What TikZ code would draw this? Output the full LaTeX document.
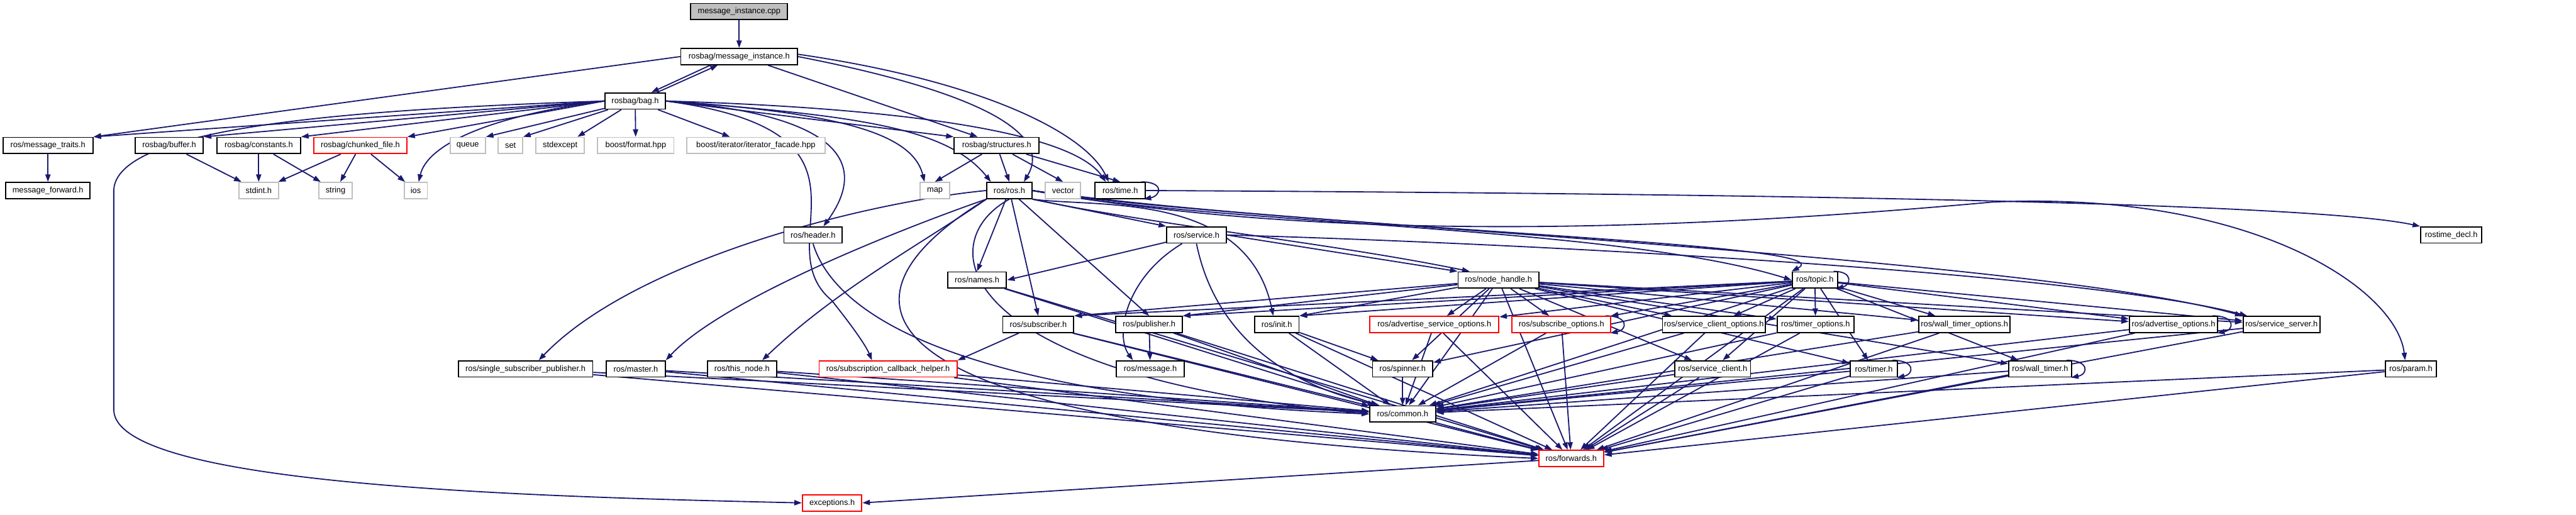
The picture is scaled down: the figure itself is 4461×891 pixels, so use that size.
\documentclass[tikz,border=0pt]{standalone}
\usepackage{fontspec}
\setmainfont{Liberation Sans}
\usetikzlibrary{arrows.meta, backgrounds}
\definecolor{edgeblue}{RGB}{25,25,112}
\definecolor{sysgray}{RGB}{191,191,191}
\definecolor{boxred}{RGB}{255,0,0}

\begin{document}
\begin{tikzpicture}[x=1pt,y=-1pt,
  font=\fontsize{14}{16}\selectfont,
  box/.style={draw=black, line width=2pt, fill=white, minimum height=28pt, inner sep=2pt},
  sysbox/.style={box, draw=sysgray},
  redbox/.style={box, draw=boxred},
  srcbox/.style={box, fill=sysgray},
  dep/.style={draw=edgeblue, line width=2pt, -{Triangle[length=13pt,width=9pt]}}]
  \useasboundingbox (0,0) rectangle (4461,891);

  % Top rows - the rosbag side
  \node[srcbox, minimum width=168pt] (cpp) at (1280,20) {message\_instance.cpp};
  \node[box, minimum width=202pt] (mi) at (1280,98) {rosbag/message\_instance.h};
  \node[box, minimum width=105pt] (bag) at (1100,175) {rosbag/bag.h};
  \node[box, minimum width=156pt] (traits) at (83,252) {ros/message\_traits.h};
  \node[box, minimum width=118pt] (buffer) at (293,252) {rosbag/buffer.h};
  \node[box, minimum width=145pt] (constants) at (448,252) {rosbag/constants.h};
  \node[redbox, minimum width=161pt] (chunked) at (624,252) {rosbag/chunked\_file.h};
  \node[sysbox, minimum width=61pt] (queue) at (810,252) {queue};
  \node[sysbox, minimum width=42pt] (set) at (884,252) {set};
  \node[sysbox, minimum width=84pt] (stdexcept) at (970,252) {stdexcept};
  \node[sysbox, minimum width=132pt] (bformat) at (1101,252) {boost/format.hpp};
  \node[sysbox, minimum width=239pt] (bfacade) at (1309,252) {boost/iterator/iterator\_facade.hpp};
  \node[box, minimum width=147pt] (structures) at (1726,252) {rosbag/structures.h};
  \node[box, minimum width=146pt] (fwdmsg) at (83,330) {message\_forward.h};
  \node[sysbox, minimum width=69pt] (stdint) at (448,330) {stdint.h};
  \node[sysbox, minimum width=58pt] (string) at (581,330) {string};
  \node[sysbox, minimum width=40pt] (ios) at (720,330) {ios};
  \node[sysbox, minimum width=51pt] (map) at (1619,330) {map};
  \node[box, minimum width=78pt] (ros) at (1748,330) {ros/ros.h};
  \node[sysbox, minimum width=61pt] (vector) at (1841,330) {vector};
  \node[box, minimum width=87pt] (time) at (1940,330) {ros/time.h};

  % Middle rows - roscpp
  \node[box, minimum width=101pt] (header) at (1408,407) {ros/header.h};
  \node[box, minimum width=103pt] (service) at (2072,407) {ros/service.h};
  \node[box, minimum width=106pt] (decl) at (4245,407) {rostime\_decl.h};
  \node[box, minimum width=102pt] (names) at (1692,485) {ros/names.h};
  \node[box, minimum width=140pt] (nh) at (2595,485) {ros/node\_handle.h};
  \node[box, minimum width=79pt] (topic) at (3143,485) {ros/topic.h};
  \node[box, minimum width=123pt] (subscriber) at (1798,562) {ros/subscriber.h};
  \node[box, minimum width=115pt] (publisher) at (1990,562) {ros/publisher.h};
  \node[box, minimum width=77pt] (init) at (2211,562) {ros/init.h};
  \node[redbox, minimum width=223pt] (aso) at (2484,562) {ros/advertise\_service\_options.h};
  \node[redbox, minimum width=171pt] (so) at (2704,562) {ros/subscribe\_options.h};
  \node[box, minimum width=178pt] (sco) at (2968,562) {ros/service\_client\_options.h};
  \node[box, minimum width=133pt] (to) at (3144,562) {ros/timer\_options.h};
  \node[box, minimum width=158pt] (wto) at (3402,562) {ros/wall\_timer\_options.h};
  \node[box, minimum width=153pt] (ao) at (3764,562) {ros/advertise\_options.h};
  \node[box, minimum width=133pt] (ss) at (3951,562) {ros/service\_server.h};
  \node[box, minimum width=233pt] (ssp) at (910,639) {ros/single\_subscriber\_publisher.h};
  \node[box, minimum width=102pt] (master) at (1101,639) {ros/master.h};
  \node[box, minimum width=120pt] (thisnode) at (1285,639) {ros/this\_node.h};
  \node[redbox, minimum width=239pt] (sch) at (1538,639) {ros/subscription\_callback\_helper.h};
  \node[box, minimum width=118pt] (message) at (1992,639) {ros/message.h};
  \node[box, minimum width=104pt] (spinner) at (2429,639) {ros/spinner.h};
  \node[box, minimum width=131pt] (sc) at (2966,639) {ros/service\_client.h};
  \node[box, minimum width=82pt] (timer) at (3245,639) {ros/timer.h};
  \node[box, minimum width=109pt] (wt) at (3533,639) {ros/wall\_timer.h};
  \node[box, minimum width=89pt] (param) at (4175,639) {ros/param.h};
  \node[box, minimum width=114pt] (common) at (2429,717) {ros/common.h};
  \node[redbox, minimum width=112pt] (forwards) at (2721,794) {ros/forwards.h};
  \node[redbox, minimum width=103pt] (exceptions) at (1441,871) {exceptions.h};

  \begin{pgfonlayer}{background}
  \fill[white] (0,0) rectangle (4461,891);

  % rosbag includes
  \draw[dep] (cpp) -- (mi);
  \draw[dep] ([xshift=-50pt]mi.south) -- ([xshift=28pt]bag.north);
  \draw[dep] ([xshift=38pt]bag.north) -- ([xshift=-37pt]mi.south);
  \draw[dep] (mi.west) -- (traits.north east);
  \draw[dep] ([xshift=50pt]mi.south) -- ([xshift=-33pt]structures.north);
  \draw[dep] (mi.east) .. controls (1650,150) and (1830,220) .. ([xshift=25pt]ros.north);
  \draw[dep] ([yshift=4pt]mi.east) .. controls (1700,140) and (1880,230) .. ([xshift=-20pt]time.north);
  \foreach \t in {traits, buffer, constants, chunked}
    \draw[dep] (bag.west) -- (\t.north east);
  \foreach \t in {queue, set}
    \draw[dep] (bag) -- (\t.north east);
  \draw[dep] (bag) -- ([xshift=30pt]stdexcept.north);
  \draw[dep] (bag) -- (bformat);
  \draw[dep] (bag) -- ([xshift=-45pt]bfacade.north);
  \draw[dep] (bag.west) .. controls (850,200) and (740,250) .. ([xshift=5pt]ios.north);
  \draw[dep] (bag.east) -- (structures.north west);
  \draw[dep] (bag.east) .. controls (1450,195) and (1580,230) .. ([xshift=-18pt]map.north);
  \draw[dep] (bag.east) .. controls (1480,200) and (1640,220) .. ([xshift=-32pt]ros.north);
  \draw[dep] (bag.east) .. controls (1500,185) and (1850,220) .. ([xshift=-25pt]time.north);
  \draw[dep] (bag.east) .. controls (1470,200) and (1500,290) .. ([xshift=18pt]header.north);
  \draw[dep] (bag.east) .. controls (1560,230) and (1320,420) .. (1440,520)
    .. controls (1480,570) and (1500,600) .. ([xshift=-28pt]sch.north);
  \draw[dep] (bag.west) .. controls (600,190) and (200,220) .. (197,330) -- (197,710)
    .. controls (200,840) and (900,860) .. (exceptions.west);
  \draw[dep] (traits) -- (fwdmsg);
  \foreach \s/\t in {buffer/stdint, constants/stdint, constants/string, chunked/stdint, chunked/string, chunked/ios}
    \draw[dep] (\s) -- (\t);
  \foreach \t in {map, ros, vector, time}
    \draw[dep] (structures) -- (\t.north);

  % ros/time.h
  \draw[dep] ([xshift=-8pt]time.north east) .. controls +(40,0) and +(30,-6) .. ([xshift=-4pt]time.south east);
  \draw[dep] (time.east) .. controls (3000,335) and (4000,350) .. (decl.north west);

  % ros/ros.h
  \draw[dep] (ros.west) .. controls (1500,350) and (1100,450) .. ([xshift=23pt]ssp.north);
  \draw[dep] (ros.south west) .. controls (1550,400) and (1250,520) .. (master.north east);
  \draw[dep] (ros.south west) .. controls (1600,420) and (1450,500) .. ([xshift=35pt]thisnode.north);
  \draw[dep] (ros.south west) .. controls (1420,520) and (1450,740) .. (forwards.west);
  \draw[dep] (ros.south) .. controls (1610,420) and (1650,650) .. (common.west);
  \foreach \t in {names, subscriber, publisher}
    \draw[dep] (ros) -- (\t.north);
  \draw[dep] (ros.south east) -- (service.north west);
  \draw[dep] (ros.south east) .. controls (2000,390) and (2300,420) .. ([xshift=-50pt]nh.north);
  \draw[dep] (ros.south east) .. controls (1900,360) and (2160,330) .. ([xshift=-6pt]init.north);
  \draw[dep] (ros.east) .. controls (2100,390) and (2800,390) .. (topic.west);
  \draw[dep] (ros.east) .. controls (2100,385) and (3500,440) .. (ss.north west);
  \draw[dep] (ros.east) .. controls (2300,420) and (2900,400) .. (3450,350)
    .. controls (3900,330) and (4150,500) .. ([xshift=-10pt]param.north);

  % ros/service.h
  \draw[dep] (service) -- (names.east);
  \draw[dep] (service.east) -- (nh.north west);
  \draw[dep] ([xshift=-25pt]service.south) .. controls (1950,480) and (1930,580) .. ([xshift=-30pt]message.north);
  \draw[dep] (service.south) .. controls (2100,560) and (2200,660) .. ([xshift=-40pt]common.north);
  \draw[dep] (service.east) .. controls (2600,420) and (3600,470) .. ([xshift=8pt]ss.north west);

  % ros/node_handle.h and ros/topic.h
  \foreach \s in {nh, topic} {
    \foreach \t in {subscriber, publisher, init}
      \draw[dep] (\s) -- (\t.north east);
    \foreach \t in {aso, so, sco, to, wto, ao, ss, sc, timer, wt, spinner, common, forwards}
      \draw[dep] (\s) -- (\t);
  }
  \draw[dep] (ros.east) .. controls (2300,400) and (3200,420) .. (topic.north west);
  \draw[dep] ([xshift=-8pt]topic.north east) .. controls +(35,0) and +(25,-6) .. ([xshift=-4pt]topic.south east);

  % self loops on the option and timer headers
  \foreach \n in {so, ao, timer, wt}
    \draw[dep] ([xshift=-10pt]\n.north east) .. controls +(40,0) and +(30,-6) .. ([xshift=-2pt]\n.south east);

  % into ros/common.h and ros/forwards.h
  \draw[dep] (subscriber) -- (sch.north east);
  \draw[dep] (publisher) -- (message);
  \draw[dep] (init) -- (spinner);
  \draw[dep] (spinner) -- (common);
  \draw[dep] (header.south) .. controls (1450,560) and (1700,690) .. (common.west);
  \foreach \s in {names, subscriber, publisher, init, aso, so, sco, to, wto, ao, ss, ssp, master, thisnode, sch, sc, timer, wt, param}
    \draw[dep] (\s) -- (common);
  \foreach \s in {names, subscriber, publisher, init, aso, so, sco, to, wto, ao, ss, ssp, master, thisnode, sch, sc, timer, wt, param, common}
    \draw[dep] (\s) -- (forwards);
  \draw[dep] (forwards) -- (exceptions.east);
  \end{pgfonlayer}
\end{tikzpicture}
\end{document}
